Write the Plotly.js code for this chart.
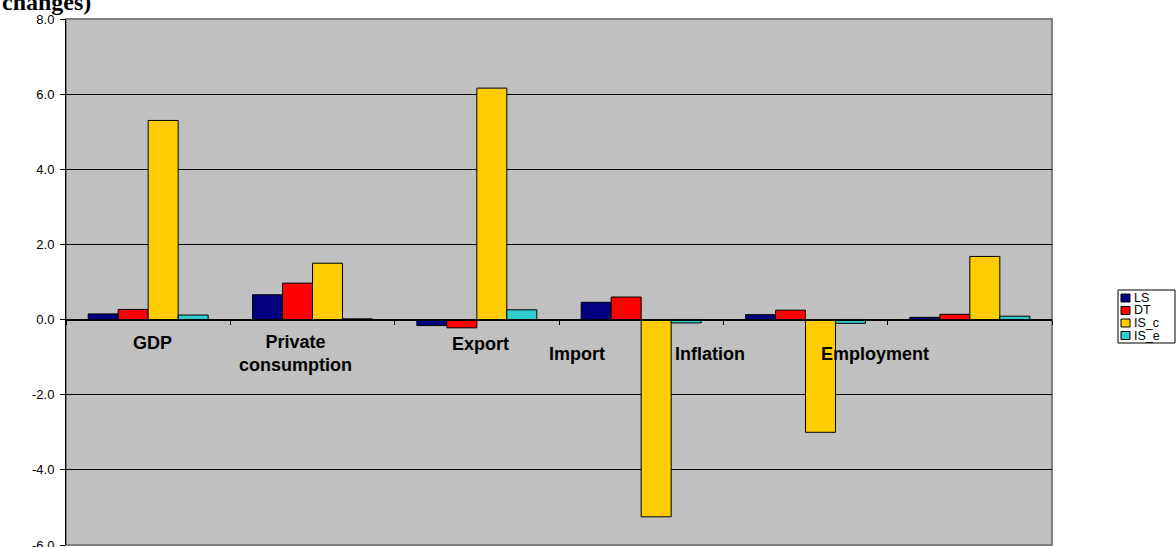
<!DOCTYPE html>
<html>
<head>
<meta charset="utf-8">
<script src="https://cdn.plot.ly/plotly-3.0.1.min.js"></script>
<style>
  html, body { margin: 0; padding: 0; background: #ffffff; }
  #chart { width: 1176px; height: 547px; }
</style>
</head>
<body>
<div id="chart"></div>
<script>
// ---- data ----
const categories = ["GDP", "Private consumption", "Export", "Import", "Inflation", "Employment"];
const categoryLabels = ["GDP", "Private<br>consumption", "Export", "Import", "Inflation", "Employment"];
const seriesNames = ["LS", "DT", "IS_c", "IS_e"];
const LS   = [0.15, 0.66, -0.16, 0.46, 0.13, 0.06];
const DT   = [0.27, 0.97, -0.22, 0.60, 0.25, 0.14];
const IS_c = [5.30, 1.50, 6.16, -5.25, -3.00, 1.68];
const IS_e = [0.12, 0.02, 0.26, -0.09, -0.10, 0.09];
const yTickVals = [-6, -4, -2, 0, 2, 4, 6, 8];
const yTickText = ["-6.0", "-4.0", "-2.0", "0.0", "2.0", "4.0", "6.0", "8.0"];
const titleText = "changes)";

// ---- styling ----
const seriesValues = [LS, DT, IS_c, IS_e];
const colors = ["#000080", "#FF0000", "#FFCC00", "#33CCCC"];

const traces = seriesNames.map((name, i) => ({
  type: "bar",
  name: name,
  x: categories,
  y: seriesValues[i],
  marker: { color: colors[i], line: { color: "#000000", width: 1 } },
  hoverinfo: "skip",
  showlegend: false
}));

// label placement offsets (pixels) relative to category centre on the zero line
const labelXShift = [4, -17, 4, -64, -96, -95];
const labelYShift = [-23, -34, -24, -34, -34, -34];

const annotations = categories.map((c, i) => ({
  xref: "x", yref: "y", x: c, y: 0,
  text: "<b>" + categoryLabels[i] + "</b>",
  showarrow: false,
  xanchor: "center", yanchor: "middle",
  xshift: labelXShift[i], yshift: labelYShift[i],
  font: { family: "Liberation Sans, Arial, sans-serif", size: 18, color: "#000000" }
}));

annotations.push({
  xref: "paper", yref: "paper", x: -0.067, y: 1,
  xanchor: "left", yanchor: "bottom", yshift: 2,
  text: "<b>" + titleText + "</b>",
  showarrow: false,
  font: { family: "Liberation Serif, Times New Roman, serif", size: 24, color: "#000000" }
});

// ---- custom legend (box, swatches, labels) in paper coordinates ----
const plotL = 66, plotW = 986, plotB = 545, plotH = 526;
const px = v => (v - plotL) / plotW;
const py = v => (plotB - v) / plotH;
const legLeft = 1118, legRight = 1175, legTop = 290, rowH = 12.5;
const shapes = [{
  type: "rect", xref: "paper", yref: "paper",
  x0: 0, x1: 1, y0: 0, y1: 1,
  line: { color: "#808080", width: 2 },
  fillcolor: "rgba(0,0,0,0)",
  layer: "below"
}, {
  type: "rect", xref: "paper", yref: "paper",
  x0: px(legLeft), x1: px(legRight),
  y0: py(legTop + 4 * rowH + 3), y1: py(legTop),
  line: { color: "#000000", width: 1 },
  fillcolor: "#ffffff"
}];
seriesNames.forEach((name, i) => {
  const cy = legTop + 8 + i * rowH;
  shapes.push({
    type: "rect", xref: "paper", yref: "paper",
    x0: px(legLeft + 3), x1: px(legLeft + 12),
    y0: py(cy + 4), y1: py(cy - 4),
    line: { color: "#000000", width: 1 },
    fillcolor: colors[i]
  });
  annotations.push({
    xref: "paper", yref: "paper",
    x: px(legLeft + 14), y: py(cy),
    xanchor: "left", yanchor: "middle",
    text: name, showarrow: false,
    font: { family: "Liberation Sans, Arial, sans-serif", size: 12.5, color: "#000000" }
  });
});

const layout = {
  width: 1176, height: 547,
  margin: { l: 66, r: 124, t: 19, b: 2, pad: 0 },
  paper_bgcolor: "#ffffff",
  plot_bgcolor: "#C0C0C0",
  barmode: "group",
  bargap: 0.27,
  bargroupgap: 0,
  showlegend: false,
  xaxis: {
    type: "category",
    anchor: "free", position: 6 / 14,
    showline: true, linecolor: "#000000", linewidth: 1,
    ticks: "outside", tickson: "boundaries", ticklen: 4, tickcolor: "#000000",
    showticklabels: false,
    showgrid: false, zeroline: false,
    fixedrange: true
  },
  yaxis: {
    range: [-6, 8],
    tickvals: yTickVals, ticktext: yTickText,
    ticks: "outside", ticklen: 5, tickcolor: "#000000",
    showline: true, linecolor: "#000000", linewidth: 1,
    showgrid: true, gridcolor: "#000000", gridwidth: 1,
    zeroline: false,
    tickfont: { family: "Liberation Sans, Arial, sans-serif", size: 13, color: "#000000" },
    ticklabelstandoff: 3,
    ticklabeloverflow: "allow",
    fixedrange: true
  },
  shapes: shapes,
  annotations: annotations
};

Plotly.newPlot("chart", traces, layout, { displayModeBar: false, staticPlot: true });
</script>
</body>
</html>
